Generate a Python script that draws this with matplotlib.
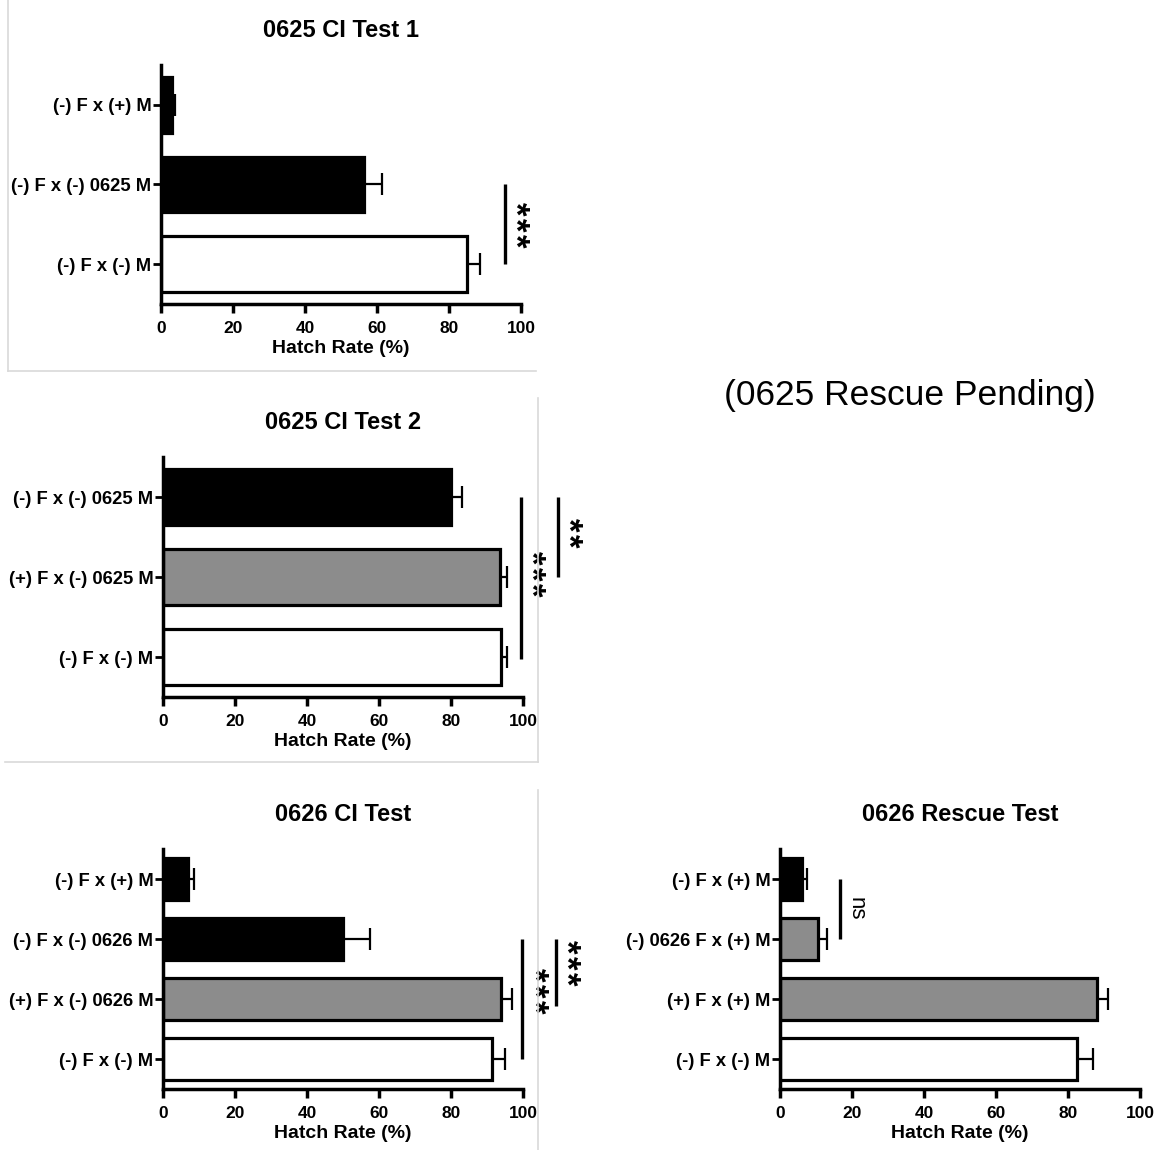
import matplotlib
matplotlib.use("Agg")
import matplotlib.pyplot as plt
from matplotlib.lines import Line2D

plt.rcParams['font.family'] = ['Liberation Sans', 'DejaVu Sans']

W, H = 1160, 1150

# ---------------- data ----------------
p1_title = "0625 CI Test 1"
p1_labels = ["(-) F x (-) M", "(-) F x (-) 0625 M", "(-) F x (+) M"]
p1_values = [85, 56.5, 3]
p1_errors = [3.5, 5, 0.8]
p1_colors = ["white", "black", "black"]

p2_title = "0625 CI Test 2"
p2_labels = ["(-) F x (-) M", "(+) F x (-) 0625 M", "(-) F x (-) 0625 M"]
p2_values = [94, 93.5, 80]
p2_errors = [1.5, 2, 3]
p2_colors = ["white", "#8c8c8c", "black"]

p3_title = "0626 CI Test"
p3_labels = ["(-) F x (-) M", "(+) F x (-) 0626 M", "(-) F x (-) 0626 M", "(-) F x (+) M"]
p3_values = [91.5, 94, 50, 7]
p3_errors = [3.5, 3, 7.5, 1.5]
p3_colors = ["white", "#8c8c8c", "black", "black"]

p4_title = "0626 Rescue Test"
p4_labels = ["(-) F x (-) M", "(+) F x (+) M", "(-) 0626 F x (+) M", "(-) F x (+) M"]
p4_values = [82.5, 88, 10.5, 6]
p4_errors = [4.5, 3, 2.5, 1.5]
p4_colors = ["white", "#8c8c8c", "#8c8c8c", "black"]

xticks = [0, 20, 40, 60, 80, 100]
xlabel = "Hatch Rate (%)"
note_text = "(0625 Rescue Pending)"

# significance: (line x, y from, y to, text, text x, text y)
p1_sig = [(95.5, 0, 1, "***", 100.6, 0.5)]
p2_sig = [(99.4, -0.03, 2, "***", 104.4, 1.04), (109.7, 1, 2, "**", 114.6, 1.55)]
p3_sig = [(99.7, 0, 2, "***", 105.2, 1.13), (109.2, 0.88, 2, "***", 114.2, 1.6)]
p4_sig = [(16.7, 2, 3, "ns", 21.0, 2.5)]

fig = plt.figure(figsize=(W / 100, H / 100), dpi=100)
fig.patch.set_facecolor("white")


def px_axes(x0, x1, ytop, ybot):
    return fig.add_axes([x0 / W, 1 - ybot / H, (x1 - x0) / W, (ybot - ytop) / H])


def stars(ax, x, y, n):
    step = 11.5  # points between asterisks
    fs = 25
    for i in range(n):
        ax.annotate("*", xy=(x, y), xytext=(-0.24 * fs, ((n - 1) / 2 - i) * step),
                    textcoords="offset points", ha="center", va="center",
                    fontsize=fs, fontweight="bold", rotation=-90, annotation_clip=False)


def panel(ax, title, labels, values, errors, colors, sigs, barh=0.7):
    n = len(values)
    pos = list(range(n))
    ax.barh(pos, values, height=barh, color=colors, edgecolor="black", linewidth=2.3, zorder=2)
    for p, v, e in zip(pos, values, errors):
        ax.errorbar([v], [p], xerr=[[0], [e]], fmt="none", ecolor="black",
                    elinewidth=1.6, capsize=8, capthick=1.6, zorder=1)
    ax.set_xlim(0, 100)
    ax.set_ylim(-0.5, n - 0.5)
    ax.set_xticks(xticks)
    ax.set_xticklabels([str(t) for t in xticks], fontweight="bold", fontsize=12.5)
    ax.set_yticks(pos)
    ax.set_yticklabels(labels, fontweight="bold", fontsize=13.2)
    ax.set_xlabel(xlabel, fontweight="bold", fontsize=14, labelpad=3)
    ax.set_title(title, fontweight="bold", fontsize=17, pad=20)
    for s in ["top", "right"]:
        ax.spines[s].set_visible(False)
    for s in ["left", "bottom"]:
        ax.spines[s].set_linewidth(2.5)
        ax.spines[s].set_capstyle("projecting")
    ax.tick_params(axis="x", width=2.5, length=6.5, direction="out", pad=5.5, colors="black")
    ax.tick_params(axis="y", width=2.0, length=6, direction="out", pad=1, colors="black")
    for (x, y0, y1, txt, tx, ty) in sigs:
        ax.plot([x, x], [y0, y1], color="black", lw=2.4, clip_on=False, solid_capstyle="butt")
        if txt == "ns":
            ax.text(tx, ty, txt, rotation=-90, ha="center", va="center",
                    fontsize=16, clip_on=False)
        else:
            stars(ax, tx, ty, len(txt))
    ax.set_facecolor("none")


ax1 = px_axes(161, 521, 65, 304)
panel(ax1, p1_title, p1_labels, p1_values, p1_errors, p1_colors, p1_sig)

ax2 = px_axes(163, 523, 457, 697)
panel(ax2, p2_title, p2_labels, p2_values, p2_errors, p2_colors, p2_sig)

ax3 = px_axes(163, 523, 849, 1089)
panel(ax3, p3_title, p3_labels, p3_values, p3_errors, p3_colors, p3_sig)

ax4 = px_axes(780, 1140, 849, 1089)
panel(ax4, p4_title, p4_labels, p4_values, p4_errors, p4_colors, p4_sig)

fig.text(910 / W, 1 - 395 / H, note_text, fontsize=25.5, ha="center", va="center")

# faint crop borders from the composite
gray = "#d9d9d9"
def fline(xs, ys):
    fig.add_artist(Line2D([x / W for x in xs], [1 - y / H for y in ys], color=gray, lw=1.2))

fline([8, 536], [371, 371])
fline([8, 8], [0, 371])
fline([538, 538], [398, 762])
fline([5, 538], [762, 762])
fline([538, 538], [790, 1150])

fig.savefig("out.png", dpi=100, facecolor="white")
